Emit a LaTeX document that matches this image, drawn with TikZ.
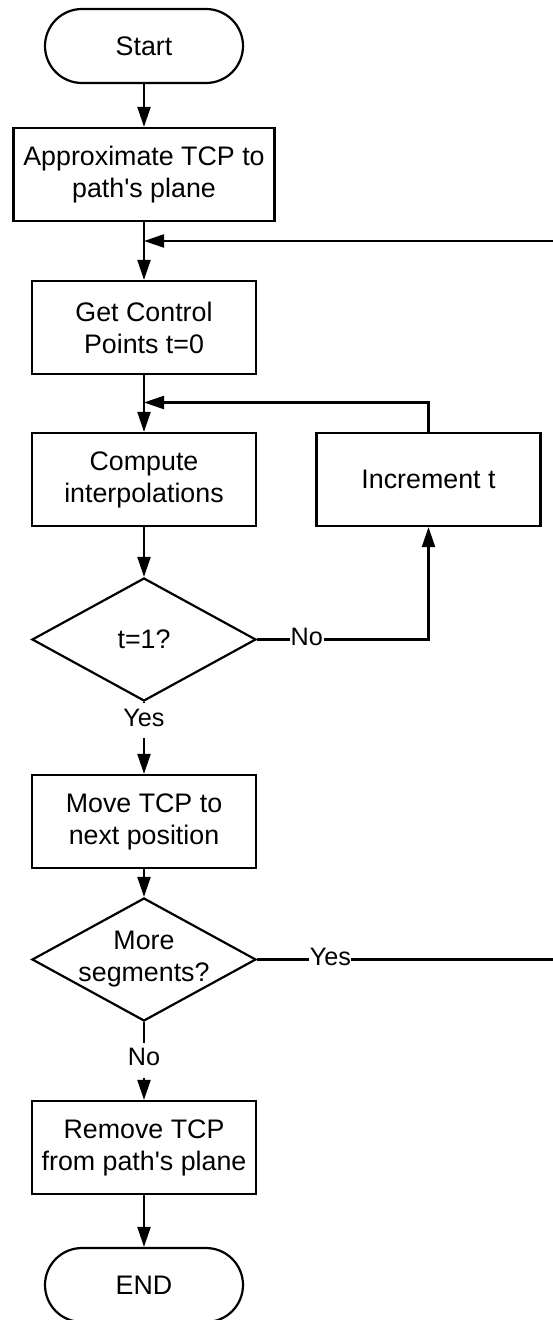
\documentclass[tikz,border=0pt]{standalone}
\usepackage{fontspec}
\setmainfont{Liberation Sans}
\usetikzlibrary{arrows.meta,shapes.geometric}

\newcommand\flowfont{\fontsize{13.4}{16}\selectfont}
\newcommand\lblfont{\fontsize{12.6}{15}\selectfont}

\begin{document}
\begin{tikzpicture}[x=0.5pt,y=-0.5pt,
  line width=1.1pt,
  box/.style={draw, rectangle, minimum width=112pt, minimum height=46.5pt,
    align=center, inner sep=0pt, font=\flowfont},
  terminal/.style={draw, rectangle, rounded corners=18.5pt, minimum width=99pt,
    minimum height=37pt, inner sep=0pt, font=\flowfont},
  decision/.style={draw, diamond, shape aspect=1.82, minimum width=112pt,
    minimum height=61.5pt, inner xsep=-3pt, inner ysep=0pt, align=center, font=\flowfont},
  lbl/.style={fill=white, inner xsep=0.3pt, inner ysep=1.5pt,
    text height=10pt, text depth=4.5pt, font=\lblfont},
  arr/.style={-{Triangle[length=10pt,width=6.5pt]}}]

% page frame
\path[fill=white, use as bounding box] (0,0) rectangle (552,1320);

% steps
\node[terminal] (start) at (144,46) {Start};
\node[box, minimum width=130.5pt] (approx) at (144,174.5) {Approximate TCP to\\path\textquotesingle s plane};
\node[box] (get) at (144,327.5) {Get Control\\Points t=0};
\node[box] (comp) at (144,479.5) {Compute\\interpolations};
\node[box] (inc) at (428.5,479.5) {Increment t};
\node[decision] (tq) at (144,639.5) {t=1?};
\node[box] (move) at (144,821.5) {Move TCP to\\next position};
\node[decision] (more) at (144,959.5) {More\\segments?};
\node[box] (remove) at (144,1147.5) {Remove TCP\\from path\textquotesingle s plane};
\node[terminal] (end) at (144,1285) {END};

% junctions of the two loops
\coordinate (m1) at (144,241);
\coordinate (m2) at (144,402.5);
\coordinate (rail) at (556,241);

% main flow
\draw[arr] (start) -- (approx);
\draw[arr] (approx) -- (get);
\draw[arr] (get) -- (comp);
\draw[arr] (comp) -- (tq);
\draw[arr] (tq) -- node[lbl, pos=0.26] {Yes} (move);
\draw[arr] (move) -- (more);
\draw[arr] (more) -- node[lbl, pos=0.49] {No} (remove);
\draw[arr] (remove) -- (end);

% inner loop over t
\draw[arr] (tq.east) -- node[lbl, pos=0.29] {No} (tq.east -| inc.south) -- (inc.south);
\draw[arr] (inc.north) |- (m2);

% outer loop over segments
\draw[arr] (more.east) -- node[lbl, pos=0.245] {Yes} (more.east -| rail) -- (rail) -- (m1);
\end{tikzpicture}
\end{document}
